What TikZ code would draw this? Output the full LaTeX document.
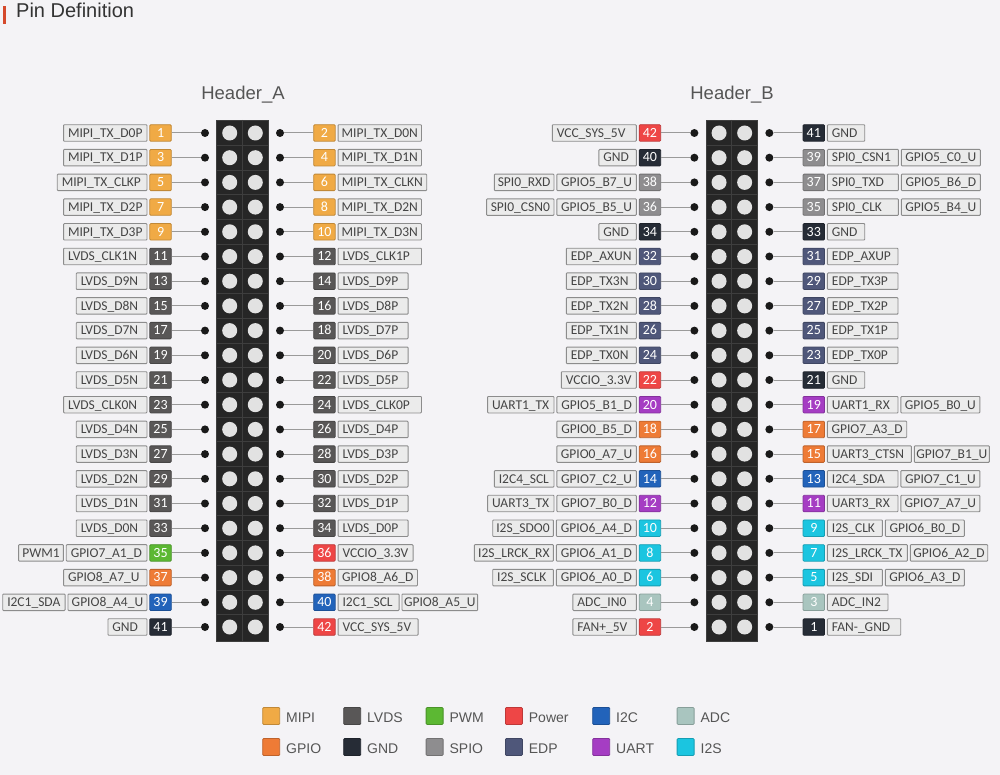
\documentclass[tikz,border=0pt]{standalone}
\usepackage{fontspec}
\setmainfont{Carlito}
\newfontfamily\arialf{Liberation Sans}
\usetikzlibrary{calc}
\definecolor{bg}{HTML}{F4F3F6}
\definecolor{cMIPI}{HTML}{F0AA45}
\definecolor{cLVDS}{HTML}{595757}
\definecolor{cPWM}{HTML}{5CB833}
\definecolor{cPower}{HTML}{EE4646}
\definecolor{cI2C}{HTML}{2263BA}
\definecolor{cADC}{HTML}{A9C5BF}
\definecolor{cGPIO}{HTML}{EE7B36}
\definecolor{cGND}{HTML}{262C36}
\definecolor{cSPIO}{HTML}{8E8D8F}
\definecolor{cEDP}{HTML}{4F577A}
\definecolor{cUART}{HTML}{A53DC3}
\definecolor{cI2S}{HTML}{1BC5E0}
\definecolor{lblfill}{HTML}{EBEBEB}
\definecolor{lblline}{HTML}{8C8C8C}
\definecolor{lbltext}{HTML}{454545}
\definecolor{blk}{HTML}{262626}
\definecolor{blkline}{HTML}{3E3E3E}
\definecolor{holec}{HTML}{E2E2E2}
\definecolor{titlered}{HTML}{D5492C}
\definecolor{headc}{HTML}{555555}
\definecolor{titlec}{HTML}{333333}
\definecolor{connc}{HTML}{9A9A9A}
\tikzset{
  lbl/.style={draw=lblline, fill=lblfill, line width=0.9pt, inner xsep=4.5pt, inner ysep=0pt,
    minimum height=16.5pt, text height=10.6pt, text depth=2pt, text=lbltext,
    font=\fontsize{13.5}{15}\selectfont, rounded corners=0.8pt},
  badge/.style={fill=#1, draw=#1!80!black, line width=0.8pt, text=white, minimum width=21.5pt,
    minimum height=16.5pt, inner sep=0pt, text height=10.6pt, text depth=2pt,
    font=\fontsize{14}{15}\selectfont, rounded corners=1pt},
  pindot/.style={circle, fill=black!90, inner sep=0pt, minimum size=8pt},
  conn/.style={draw=connc, line width=1pt},
  gridl/.style={draw=blkline, line width=0.8pt},
  legsq/.style={draw=#1!80!black, fill=#1, line width=0.8pt, minimum size=17pt, inner sep=0pt, rounded corners=1pt},
  legtxt/.style={font=\arialf\fontsize{14}{16}\selectfont, text=headc, inner sep=0pt, text height=10pt, text depth=0pt},
}
% text left aligned in a box of fixed width; if too wide it overflows evenly
\newcommand\lbltxt[2]{\hbox to \dimexpr#1pt-9pt\relax{\hskip 0pt minus 20pt\relax #2\hfill\hskip 0pt minus 20pt\relax}}
% #1 header, #2 cx, #3 row, #4 pin, #5 colour, #6 labels
\newcommand\pinL[6]{%
  \pgfmathsetmacro\yy{133+24.7*#3}%
  \node[pindot] (#1d#4) at (#2-37.5,\yy) {};
  \node[badge=#5, anchor=east] (#1p#4-0) at (#2-70.8,\yy) {#4};
  \draw[conn] (#1p#4-0.east) -- (#1d#4);
  \foreach \t/\w [count=\i] in {#6} {%
    \pgfmathtruncatemacro\j{\i-1}%
    \node[lbl, anchor=east] (#1p#4-\i) at ([xshift=-2pt]#1p#4-\j.west) {\lbltxt{\w}{\t}};
  }%
}
\newcommand\pinR[6]{%
  \pgfmathsetmacro\yy{133+24.7*#3}%
  \node[pindot] (#1d#4) at (#2+37.5,\yy) {};
  \node[badge=#5, anchor=west] (#1p#4-0) at (#2+70.8,\yy) {#4};
  \draw[conn] (#1p#4-0.west) -- (#1d#4);
  \foreach \t/\w [count=\i] in {#6} {%
    \pgfmathtruncatemacro\j{\i-1}%
    \node[lbl, anchor=west] (#1p#4-\i) at ([xshift=2pt]#1p#4-\j.east) {\lbltxt{\w}{\t}};
  }%
}
\begin{document}
\begin{tikzpicture}[x=1pt,y=-1pt]
\useasboundingbox (0,0) rectangle (1000,775);
\fill[bg] (0,0) rectangle (1000,775);
% title
\fill[titlered] (3.3,6) rectangle (5.6,24);
\node[anchor=base west, font=\arialf\fontsize{20}{22}\selectfont, text=titlec, inner sep=0pt] (title) at (16,17.3) {Pin Definition};
\node[anchor=base, font=\arialf\fontsize{18.5}{20}\selectfont, text=headc, inner sep=0pt] (hA) at (243,99.3) {Header\_A};
\node[anchor=base, font=\arialf\fontsize{18.5}{20}\selectfont, text=headc, inner sep=0pt] (hB) at (732,99.3) {Header\_B};
% header blocks
\foreach \cx in {242.5,731.85} {
  \draw[fill=blk, draw=blkline, line width=0.8pt] (\cx-25.85,120) rectangle (\cx+25.85,641);
  \foreach \k in {1,...,20} \draw[gridl] (\cx-25.85,{120.65+24.7*\k}) -- (\cx+25.85,{120.65+24.7*\k});
  \draw[gridl] (\cx,120) -- (\cx,641);
  \foreach \k in {0,...,20} {
    \fill[holec] (\cx-12.8,{133+24.7*\k}) circle (7.5);
    \fill[holec] (\cx+12.8,{133+24.7*\k}) circle (7.5);
  }
}
% Header A left
\pinL{A}{242.5}{0}{1}{cMIPI}{MIPI\_TX\_D0P/83.4}
\pinL{A}{242.5}{1}{3}{cMIPI}{MIPI\_TX\_D1P/83.4}
\pinL{A}{242.5}{2}{5}{cMIPI}{MIPI\_TX\_CLKP/89.7}
\pinL{A}{242.5}{3}{7}{cMIPI}{MIPI\_TX\_D2P/83.4}
\pinL{A}{242.5}{4}{9}{cMIPI}{MIPI\_TX\_D3P/83.4}
\pinL{A}{242.5}{5}{11}{cLVDS}{LVDS\_CLK1N/83.4}
\pinL{A}{242.5}{6}{13}{cLVDS}{LVDS\_D9N/70.7}
\pinL{A}{242.5}{7}{15}{cLVDS}{LVDS\_D8N/70.7}
\pinL{A}{242.5}{8}{17}{cLVDS}{LVDS\_D7N/70.7}
\pinL{A}{242.5}{9}{19}{cLVDS}{LVDS\_D6N/70.7}
\pinL{A}{242.5}{10}{21}{cLVDS}{LVDS\_D5N/70.7}
\pinL{A}{242.5}{11}{23}{cLVDS}{LVDS\_CLK0N/83.4}
\pinL{A}{242.5}{12}{25}{cLVDS}{LVDS\_D4N/70.7}
\pinL{A}{242.5}{13}{27}{cLVDS}{LVDS\_D3N/70.7}
\pinL{A}{242.5}{14}{29}{cLVDS}{LVDS\_D2N/70.7}
\pinL{A}{242.5}{15}{31}{cLVDS}{LVDS\_D1N/70.7}
\pinL{A}{242.5}{16}{33}{cLVDS}{LVDS\_D0N/70.7}
\pinL{A}{242.5}{17}{35}{cPWM}{GPIO7\_A1\_D/80.7, PWM1/44.7}
\pinL{A}{242.5}{18}{37}{cGPIO}{GPIO8\_A7\_U/83.4}
\pinL{A}{242.5}{19}{39}{cI2C}{GPIO8\_A4\_U/79, I2C1\_SDA/62.3}
\pinL{A}{242.5}{20}{41}{cGND}{GND/39}
% Header A right
\pinR{A}{242.5}{0}{2}{cMIPI}{MIPI\_TX\_D0N/83.4}
\pinR{A}{242.5}{1}{4}{cMIPI}{MIPI\_TX\_D1N/83.4}
\pinR{A}{242.5}{2}{6}{cMIPI}{MIPI\_TX\_CLKN/88.7}
\pinR{A}{242.5}{3}{8}{cMIPI}{MIPI\_TX\_D2N/83.4}
\pinR{A}{242.5}{4}{10}{cMIPI}{MIPI\_TX\_D3N/83.4}
\pinR{A}{242.5}{5}{12}{cLVDS}{LVDS\_CLK1P/83.4}
\pinR{A}{242.5}{6}{14}{cLVDS}{LVDS\_D9P/70}
\pinR{A}{242.5}{7}{16}{cLVDS}{LVDS\_D8P/70}
\pinR{A}{242.5}{8}{18}{cLVDS}{LVDS\_D7P/70}
\pinR{A}{242.5}{9}{20}{cLVDS}{LVDS\_D6P/70}
\pinR{A}{242.5}{10}{22}{cLVDS}{LVDS\_D5P/70}
\pinR{A}{242.5}{11}{24}{cLVDS}{LVDS\_CLK0P/83.4}
\pinR{A}{242.5}{12}{26}{cLVDS}{LVDS\_D4P/70}
\pinR{A}{242.5}{13}{28}{cLVDS}{LVDS\_D3P/70}
\pinR{A}{242.5}{14}{30}{cLVDS}{LVDS\_D2P/70}
\pinR{A}{242.5}{15}{32}{cLVDS}{LVDS\_D1P/70}
\pinR{A}{242.5}{16}{34}{cLVDS}{LVDS\_D0P/70}
\pinR{A}{242.5}{17}{36}{cPower}{VCCIO\_3.3V/75}
\pinR{A}{242.5}{18}{38}{cGPIO}{GPIO8\_A6\_D/79.4}
\pinR{A}{242.5}{19}{40}{cI2C}{I2C1\_SCL/61, GPIO8\_A5\_U/75.7}
\pinR{A}{242.5}{20}{42}{cPower}{VCC\_SYS\_5V/80}
% Header B left
\pinL{B}{731.85}{0}{42}{cPower}{VCC\_SYS\_5V/84}
\pinL{B}{731.85}{1}{40}{cGND}{GND/37.4}
\pinL{B}{731.85}{2}{38}{cSPIO}{GPIO5\_B7\_U/79.4, SPI0\_RXD/59.7}
\pinL{B}{731.85}{3}{36}{cSPIO}{GPIO5\_B5\_U/79.4, SPI0\_CSN0/67.4}
\pinL{B}{731.85}{4}{34}{cGND}{GND/37.4}
\pinL{B}{731.85}{5}{32}{cEDP}{EDP\_AXUN/70}
\pinL{B}{731.85}{6}{30}{cEDP}{EDP\_TX3N/70}
\pinL{B}{731.85}{7}{28}{cEDP}{EDP\_TX2N/70}
\pinL{B}{731.85}{8}{26}{cEDP}{EDP\_TX1N/70}
\pinL{B}{731.85}{9}{24}{cEDP}{EDP\_TX0N/70}
\pinL{B}{731.85}{10}{22}{cPower}{VCCIO\_3.3V/75}
\pinL{B}{731.85}{11}{20}{cUART}{GPIO5\_B1\_D/79.4, UART1\_TX/66.4}
\pinL{B}{731.85}{12}{18}{cGPIO}{GPIO0\_B5\_D/79.4}
\pinL{B}{731.85}{13}{16}{cGPIO}{GPIO0\_A7\_U/79.4}
\pinL{B}{731.85}{14}{14}{cI2C}{GPIO7\_C2\_U/79.4, I2C4\_SCL/59.7}
\pinL{B}{731.85}{15}{12}{cUART}{GPIO7\_B0\_D/79.4, UART3\_TX/66.4}
\pinL{B}{731.85}{16}{10}{cI2S}{GPIO6\_A4\_D/80, I2S\_SDO0/60.7}
\pinL{B}{731.85}{17}{8}{cI2S}{GPIO6\_A1\_D/80, I2S\_LRCK\_RX/79}
\pinL{B}{731.85}{18}{6}{cI2S}{GPIO6\_A0\_D/80, I2S\_SCLK/60.7}
\pinL{B}{731.85}{19}{4}{cADC}{ADC\_IN0/63.4}
\pinL{B}{731.85}{20}{2}{cPower}{FAN+\_5V/63.4}
% Header B right
\pinR{B}{731.85}{0}{41}{cGND}{GND/37.3}
\pinR{B}{731.85}{1}{39}{cSPIO}{SPI0\_CSN1/71, GPIO5\_C0\_U/79}
\pinR{B}{731.85}{2}{37}{cSPIO}{SPI0\_TXD/71, GPIO5\_B6\_D/79}
\pinR{B}{731.85}{3}{35}{cSPIO}{SPI0\_CLK/71, GPIO5\_B4\_U/79}
\pinR{B}{731.85}{4}{33}{cGND}{GND/37.3}
\pinR{B}{731.85}{5}{31}{cEDP}{EDP\_AXUP/70.6}
\pinR{B}{731.85}{6}{29}{cEDP}{EDP\_TX3P/70.6}
\pinR{B}{731.85}{7}{27}{cEDP}{EDP\_TX2P/70.6}
\pinR{B}{731.85}{8}{25}{cEDP}{EDP\_TX1P/70.6}
\pinR{B}{731.85}{9}{23}{cEDP}{EDP\_TX0P/70.6}
\pinR{B}{731.85}{10}{21}{cGND}{GND/37.3}
\pinR{B}{731.85}{11}{19}{cUART}{UART1\_RX/70.6, GPIO5\_B0\_U/79}
\pinR{B}{731.85}{12}{17}{cGPIO}{GPIO7\_A3\_D/79.3}
\pinR{B}{731.85}{13}{15}{cGPIO}{UART3\_CTSN/84, GPIO7\_B1\_U/75}
\pinR{B}{731.85}{14}{13}{cI2C}{I2C4\_SDA/70.6, GPIO7\_C1\_U/79}
\pinR{B}{731.85}{15}{11}{cUART}{UART3\_RX/70.6, GPIO7\_A7\_U/79}
\pinR{B}{731.85}{16}{9}{cI2S}{I2S\_CLK/55, GPIO6\_B0\_D/79}
\pinR{B}{731.85}{17}{7}{cI2S}{I2S\_LRCK\_TX/80, GPIO6\_A2\_D/77.4}
\pinR{B}{731.85}{18}{5}{cI2S}{I2S\_SDI/55, GPIO6\_A3\_D/79}
\pinR{B}{731.85}{19}{3}{cADC}{ADC\_IN2/60.6}
\pinR{B}{731.85}{20}{1}{cGND}{FAN-\_GND/73.3}
% legend
\foreach \x/\nm/\col in {262.3/MIPI/cMIPI, 343.3/LVDS/cLVDS, 425.7/PWM/cPWM, 505/Power/cPower, 592.3/I2C/cI2C, 676.7/ADC/cADC} {
  \node[legsq=\col, anchor=west] (leg\nm) at (\x,716) {};
  \node[legtxt, anchor=west] (legt\nm) at (\x+23.7,717) {\nm};
}
\foreach \x/\nm/\col in {262.3/GPIO/cGPIO, 343.3/GND/cGND, 425.7/SPIO/cSPIO, 505/EDP/cEDP, 592.3/UART/cUART, 676.7/I2S/cI2S} {
  \node[legsq=\col, anchor=west] (leg\nm) at (\x,747) {};
  \node[legtxt, anchor=west] (legt\nm) at (\x+23.7,748) {\nm};
}
\end{tikzpicture}
\end{document}
